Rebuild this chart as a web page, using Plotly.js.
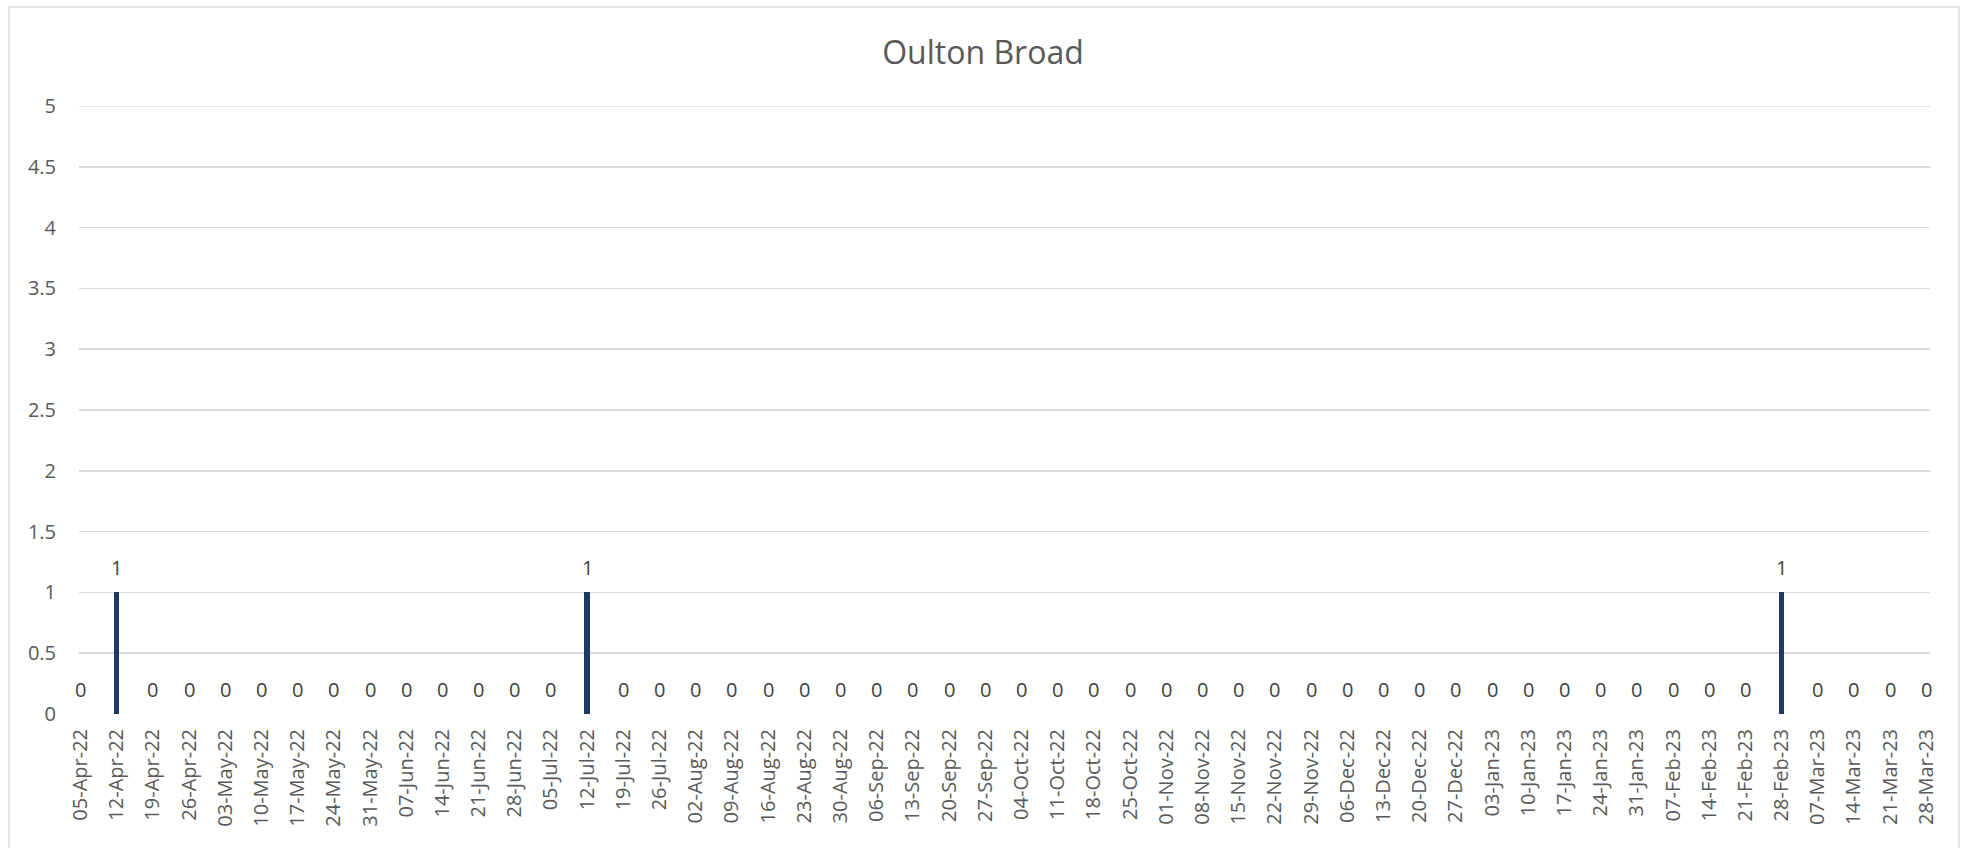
<!DOCTYPE html>
<html>
<head>
<meta charset="utf-8">
<script src="https://cdn.plot.ly/plotly-3.0.1.min.js"></script>
<style>
html,body{margin:0;padding:0;background:#fff;}
#chart{width:1966px;height:848px;}
</style>
</head>
<body>
<div id="chart"></div>
<script>
const chartTitle = "Oulton Broad";
const categories = [
  "05-Apr-22","12-Apr-22","19-Apr-22","26-Apr-22","03-May-22","10-May-22","17-May-22","24-May-22","31-May-22",
  "07-Jun-22","14-Jun-22","21-Jun-22","28-Jun-22","05-Jul-22","12-Jul-22","19-Jul-22","26-Jul-22",
  "02-Aug-22","09-Aug-22","16-Aug-22","23-Aug-22","30-Aug-22","06-Sep-22","13-Sep-22","20-Sep-22","27-Sep-22",
  "04-Oct-22","11-Oct-22","18-Oct-22","25-Oct-22","01-Nov-22","08-Nov-22","15-Nov-22","22-Nov-22","29-Nov-22",
  "06-Dec-22","13-Dec-22","20-Dec-22","27-Dec-22","03-Jan-23","10-Jan-23","17-Jan-23","24-Jan-23","31-Jan-23",
  "07-Feb-23","14-Feb-23","21-Feb-23","28-Feb-23","07-Mar-23","14-Mar-23","21-Mar-23","28-Mar-23"
];
const values = [
  0,1,0,0,0,0,0,0,0,
  0,0,0,0,0,1,0,0,
  0,0,0,0,0,0,0,0,0,
  0,0,0,0,0,0,0,0,0,
  0,0,0,0,0,0,0,0,0,
  0,0,0,1,0,0,0,0
];
const yTicks = [0,0.5,1,1.5,2,2.5,3,3.5,4,4.5,5];

const textColor = "#595959";
const gridColor = "#d9d9d9";
const fontFam = "'Open Sans', 'Noto Sans', sans-serif";

const trace = {
  type: "bar",
  x: categories,
  y: values,
  width: 0.15,
  marker: {color: "#1f3864", line: {width: 0}},
  hoverinfo: "x+y"
};

const annotations = categories.map((c, i) => ({
  x: c, y: values[i], xref: "x", yref: "y",
  text: String(values[i]), showarrow: false,
  yshift: 25,
  font: {family: fontFam, size: 20, color: "#404040"}
}));

// outer chart border (in paper coordinates relative to plot area)
const plotL = 79, plotR = 1930, plotT = 106, plotB = 714;
const pw = plotR - plotL, ph = plotB - plotT;
const bx0 = (9 - plotL) / pw, bx1 = (1959 - plotL) / pw;
const by1 = (plotB - 7) / ph, by0 = (plotB - 860) / ph;

const yMax = yTicks[yTicks.length - 1];

const layout = {
  width: 1966, height: 848,
  paper_bgcolor: "#ffffff", plot_bgcolor: "#ffffff",
  margin: {l: plotL, r: 1966 - plotR, t: plotT, b: 848 - plotB, pad: 0},
  title: {text: chartTitle, x: 0.5, xref: "container", xanchor: "center",
          y: 1 - 53/848, yref: "container", yanchor: "middle",
          font: {family: fontFam, size: 32, color: textColor}},
  showlegend: false,
  bargap: 0,
  xaxis: {
    type: "category",
    range: [-0.04, 51.1],
    tickangle: -90,
    showgrid: false, zeroline: false, showline: false,
    ticks: "", ticklabelstandoff: 10,
    tickfont: {family: fontFam, size: 20, color: textColor},
    fixedrange: true
  },
  yaxis: {
    range: [0, yMax],
    tickvals: yTicks,
    ticktext: yTicks.map(String),
    showgrid: true, gridcolor: gridColor, gridwidth: 1.5,
    zeroline: false, showline: false,
    ticks: "", ticklabelstandoff: 22,
    tickfont: {family: fontFam, size: 20, color: textColor},
    fixedrange: true
  },
  annotations: annotations,
  shapes: [
    {
      type: "rect", xref: "paper", yref: "paper",
      x0: bx0, x1: bx1, y0: by0, y1: by1,
      line: {color: gridColor, width: 1.5}, fillcolor: "rgba(0,0,0,0)", layer: "below"
    },
    {
      type: "line", xref: "paper", yref: "y",
      x0: 0, x1: 1, y0: yMax, y1: yMax,
      line: {color: gridColor, width: 1.5}, layer: "below"
    }
  ]
};

Plotly.newPlot("chart", [trace], layout, {displayModeBar: false, staticPlot: true});
</script>
</body>
</html>
